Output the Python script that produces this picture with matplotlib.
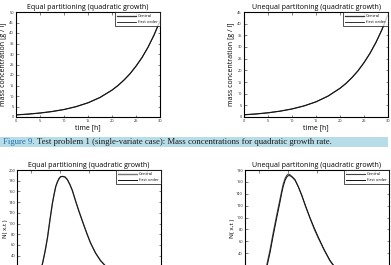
import matplotlib

matplotlib.use("Agg")
import matplotlib.pyplot as plt
from matplotlib.patches import Rectangle

# top row: mass concentration vs time
time_eq = [0, 2.5, 5, 7.5, 10, 12.5, 15, 17.5, 20, 21.25, 22.5, 23.75, 25,
           26.25, 27.5, 28.75, 30]
mass_eq = [1.0, 1.37, 1.89, 2.6, 3.57, 4.92, 6.76, 9.3, 12.8, 15.0, 17.6,
           20.6, 24.2, 28.3, 33.2, 39.0, 45.7]
time_uneq = [0, 2.5, 5, 7.5, 10, 12.5, 15, 17.5, 20, 21.25, 22.5, 23.75, 25,
             26.25, 27.5, 28.75, 30]
mass_uneq = [0.95, 1.3, 1.8, 2.5, 3.45, 4.75, 6.5, 8.95, 12.3, 14.4, 16.9,
             19.8, 23.3, 27.3, 32.0, 37.5, 44.0]

# bottom row: number density (its x axis lies below the visible area)
x_eq = [0.12, 0.15, 0.163, 0.177, 0.195, 0.212, 0.229, 0.246, 0.258, 0.269,
        0.281, 0.292, 0.303, 0.315, 0.333, 0.35, 0.367, 0.384, 0.407, 0.43,
        0.447, 0.464, 0.487, 0.51, 0.545, 0.579, 0.62, 0.67, 0.75]
n_eq_central = [0, 5, 12, 25, 48, 74, 107, 138, 155, 169, 178, 184, 187.5,
                188, 187, 182, 173, 162, 142, 123, 110, 97, 80, 64, 45, 31,
                19, 10, 2]
n_eq_first = n_eq_central

x_uneq = [0.10, 0.13, 0.151, 0.174, 0.197, 0.22, 0.243, 0.255, 0.266, 0.279,
          0.29, 0.30, 0.31, 0.322, 0.335, 0.347, 0.37, 0.394, 0.42, 0.451,
          0.48, 0.509, 0.55, 0.59, 0.63, 0.68, 0.75]
n_uneq_central = [0, 5, 20, 46, 76, 104, 131, 145, 157, 166, 171, 173, 172.5,
                  170, 167, 164, 152, 137, 119, 99, 81, 65.5, 45, 27, 14, 6, 0]
n_uneq_first = [0, 3, 16, 41, 71, 99, 126, 141, 153, 163, 168, 170.5, 170.5,
                169, 166, 163, 152, 138, 120, 100, 83, 67, 46, 28, 15, 6, 0]

W, H = 391, 265
TICK_FS = 2.8
TITLE_FS = 5.0
LABEL_FS = 5.0
SANS = ["Open Sans", "DejaVu Sans"]


def px_axes(fig, x0, y0, x1, y1):
    return fig.add_axes([x0 / W, (H - y1) / H, (x1 - x0) / W, (y1 - y0) / H])


def style(ax, pad=1.5):
    ax.tick_params(direction="in", top=True, right=True, length=1.8, width=0.4,
                   labelsize=TICK_FS, pad=pad, colors="#222222")
    for s in ax.spines.values():
        s.set_linewidth(0.8)
    for lab in ax.get_xticklabels() + ax.get_yticklabels():
        lab.set_family(SANS)


def legend(ax):
    leg = ax.legend(loc="upper right", frameon=True, fancybox=False,
                    borderaxespad=0, handlelength=4.5, handletextpad=0.6,
                    borderpad=0.5, labelspacing=0.5,
                    prop={"family": SANS, "size": 3.0})
    leg.get_frame().set_edgecolor("black")
    leg.get_frame().set_linewidth(0.6)


fig = plt.figure(figsize=(W / 100, H / 100), dpi=100)

# top left
ax = px_axes(fig, 16, 12, 160, 117)
ax.plot(time_eq, mass_eq, color="#333333", lw=0.9, label="Central")
ax.plot(time_eq, mass_eq, color="#111111", lw=0.6, label="first order")
ax.set_xlim(0, 30)
ax.set_ylim(0, 50)
ax.set_xticks(range(0, 31, 5))
ax.set_yticks(range(0, 51, 5))
style(ax)
legend(ax)
ax.set_title("Equal partitioning (quadratic growth)", fontsize=TITLE_FS, family=SANS, pad=2)
ax.set_xlabel("time [h]", fontsize=LABEL_FS, family=SANS, labelpad=1)
ax.set_ylabel("mass concentration [g / l]", fontsize=LABEL_FS, family=SANS, labelpad=2)

# top right
ax = px_axes(fig, 244, 12, 388, 117)
ax.plot(time_uneq, mass_uneq, color="#333333", lw=0.9, label="Central")
ax.plot(time_uneq, mass_uneq, color="#111111", lw=0.6, label="first order")
ax.set_xlim(0, 30)
ax.set_ylim(0, 45)
ax.set_xticks(range(0, 31, 5))
ax.set_yticks(range(0, 46, 5))
style(ax)
legend(ax)
ax.set_title("Unequal partitoning (quadratic growth)", fontsize=TITLE_FS, family=SANS, pad=2)
ax.set_xlabel("time [h]", fontsize=LABEL_FS, family=SANS, labelpad=1)
ax.set_ylabel("mass concentration [g / l]", fontsize=LABEL_FS, family=SANS, labelpad=2)

# caption band
fig.patches.append(Rectangle((0, (H - 147) / H), 388 / W, 10 / H,
                             transform=fig.transFigure, facecolor="#b7dde8",
                             edgecolor="none", zorder=0))
serif = ["Liberation Serif", "DejaVu Serif"]
t1 = fig.text(3 / W, (H - 142) / H, "Figure 9.", color="#2470a8", fontsize=6.3,
              family=serif, va="center", ha="left")
fig.canvas.draw()
bb = t1.get_window_extent()
fig.text((bb.x1 + 2) / W, (H - 142) / H,
         "Test problem 1 (single-variate case): Mass concentrations for quadratic growth rate.",
         color="#1a1a1a", fontsize=6.3, family=serif, va="center", ha="left")

# bottom left (lower part falls outside the figure, as in the reference)
ax = px_axes(fig, 17, 170, 161, 277)
ax.plot(x_eq, n_eq_central, color="#777777", lw=1.0, label="Central")
ax.plot(x_eq, n_eq_first, color="#111111", lw=0.7, label="first order")
ax.set_xlim(0, 1)
ax.set_ylim(0, 200)
ax.set_xticks([0.1, 0.3, 0.5, 0.7, 0.9])
ax.set_yticks(range(40, 201, 20))
style(ax, pad=1.0)
ax.tick_params(labelbottom=False)
legend(ax)
ax.set_title("Equal partitioning (quadratic growth)", fontsize=TITLE_FS, family=SANS, pad=2)
ax.set_ylabel("N( x,t )", fontsize=4.4, family=SANS)
ax.yaxis.set_label_coords(-0.062, 0.45)

# bottom right
ax = px_axes(fig, 245, 170, 389, 277)
ax.plot(x_uneq, n_uneq_central, color="#444444", lw=0.8, label="Central")
ax.plot(x_uneq, n_uneq_first, color="#111111", lw=0.7, label="first order")
ax.set_xlim(0, 1)
ax.set_ylim(0, 180)
ax.set_xticks([0.1, 0.3, 0.5, 0.7, 0.9])
ax.set_yticks(range(40, 181, 20))
style(ax)
ax.tick_params(labelbottom=False)
legend(ax)
ax.set_title("Unequal partitoning (quadratic growth)", fontsize=TITLE_FS, family=SANS, pad=2)
ax.set_ylabel("N( x,t )", fontsize=4.6, family=SANS)
ax.yaxis.set_label_coords(-0.07, 0.45)

fig.savefig("out.png", dpi=100)
